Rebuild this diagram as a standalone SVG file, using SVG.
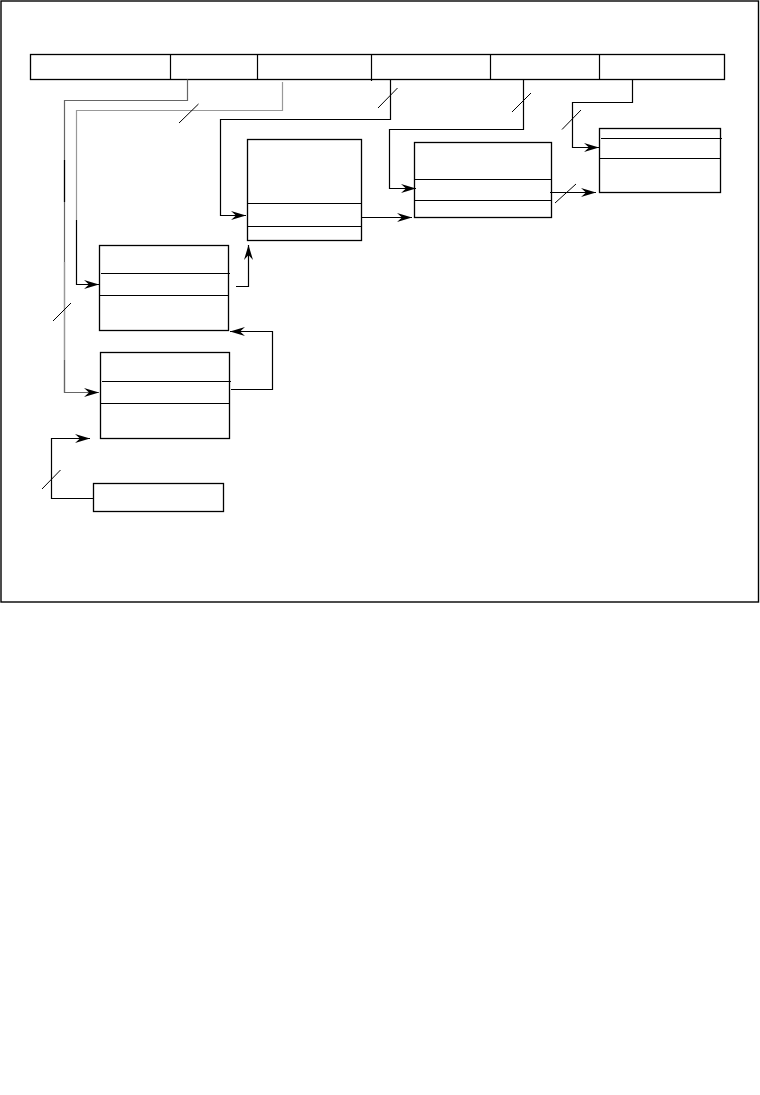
<svg xmlns="http://www.w3.org/2000/svg" width="760" height="1095" viewBox="0 0 760 1095">
<style>
.box{fill:#fff;stroke:#000;stroke-width:1.3}
.div{stroke:#000;stroke-width:1.2;fill:none}
.c{fill:none;stroke:#000;stroke-width:1.2}
.g1{fill:none;stroke:#666;stroke-width:1.2}
.g2{fill:none;stroke:#999;stroke-width:1.2}
.sl{stroke:#000;stroke-width:1}
</style>
<defs>
<marker id="ah" markerUnits="userSpaceOnUse" markerWidth="16" markerHeight="10" refX="15" refY="5" orient="auto" viewBox="0 0 16 10">
<path d="M0,0.5 L15,5 L0,9.5 L5,5 z" fill="#000"/>
</marker>
</defs>
<rect x="0" y="0" width="760" height="1095" fill="#fff"/>
<rect id="frame" x="1" y="1" width="757.5" height="601" fill="none" stroke="#000" stroke-width="1.4"/>

<g id="topbar">
<rect class="box" x="30.5" y="54.5" width="694" height="25"/>
<line class="div" x1="170.5" y1="54.5" x2="170.5" y2="79.5"/>
<line class="div" x1="257.5" y1="54.5" x2="257.5" y2="79.5"/>
<line class="div" x1="371.5" y1="54.5" x2="371.5" y2="81"/>
<line class="div" x1="490.5" y1="54.5" x2="490.5" y2="79.5"/>
<line class="div" x1="599.5" y1="54.5" x2="599.5" y2="79.5"/>
</g>

<g id="boxA">
<rect class="box" x="247.5" y="139.5" width="114" height="101"/>
<line class="div" x1="247.5" y1="203.5" x2="361.5" y2="203.5"/>
<line class="div" x1="247.5" y1="226.5" x2="361.5" y2="226.5"/>
</g>
<g id="boxB">
<rect class="box" x="414.5" y="142.5" width="137" height="75"/>
<line class="div" x1="414.5" y1="179.5" x2="551.5" y2="179.5"/>
<line class="div" x1="414.5" y1="200.5" x2="551.5" y2="200.5"/>
</g>
<g id="boxC">
<rect class="box" x="599.5" y="128.5" width="121" height="64"/>
<line class="div" x1="601" y1="138.5" x2="722" y2="138.5"/>
<line class="div" x1="599.5" y1="158.5" x2="720.5" y2="158.5"/>
</g>
<g id="boxD">
<rect class="box" x="99.5" y="245.5" width="129" height="85"/>
<line class="div" x1="101" y1="273.5" x2="230" y2="273.5"/>
<line class="div" x1="99.5" y1="295.5" x2="228.5" y2="295.5"/>
</g>
<g id="boxE">
<rect class="box" x="100.5" y="352.5" width="129" height="86"/>
<line class="div" x1="102" y1="381.5" x2="231" y2="381.5"/>
<line class="div" x1="100.5" y1="403.5" x2="229.5" y2="403.5"/>
</g>
<g id="boxF">
<rect class="box" x="93.5" y="483.5" width="130" height="28"/>
</g>

<g id="connectors">
<polyline class="g1" points="187.5,79.5 187.5,100.5 64.5,100.5 64.5,392.5" />
<line class="c" x1="64.5" y1="160" x2="64.5" y2="202"/>
<line class="g2" x1="64.5" y1="262" x2="64.5" y2="360"/>
<polyline class="g1" points="64.5,360 64.5,392.5 99,392.5" marker-end="url(#ah)"/>
<line class="sl" x1="53" y1="321" x2="71" y2="303"/>
<polyline class="g2" points="282.5,82 282.5,110.5 76.5,110.5 76.5,220"/>
<polyline class="c" points="76.5,220 76.5,284.5 99,284.5" marker-end="url(#ah)"/>
<line class="sl" x1="179" y1="123" x2="198.5" y2="104"/>
<polyline class="c" points="390.5,79.5 390.5,119.5 220.5,119.5 220.5,215.5 246,215.5" marker-end="url(#ah)"/>
<line class="sl" x1="378" y1="108" x2="397.5" y2="88"/>
<polyline class="c" points="523.5,79.5 523.5,129.5 389.5,129.5 389.5,188.5 416,188.5" marker-end="url(#ah)"/>
<line class="sl" x1="512" y1="112" x2="531" y2="93"/>
<polyline class="c" points="632.5,79.5 632.5,102.5 572.5,102.5 572.5,147.5 599,147.5" marker-end="url(#ah)"/>
<line class="sl" x1="562" y1="129.5" x2="581" y2="110"/>
<line class="c" x1="361.5" y1="217.5" x2="412" y2="217.5" marker-end="url(#ah)"/>
<line class="c" x1="550" y1="192.5" x2="596" y2="192.5" marker-end="url(#ah)"/>
<line class="sl" x1="555" y1="203" x2="576" y2="184"/>
<polyline class="c" points="236,286.5 248.5,286.5 248.5,245" marker-end="url(#ah)"/>
<polyline class="c" points="231,389.5 272.5,389.5 272.5,331.5 230,331.5" marker-end="url(#ah)"/>
<polyline class="c" points="93.5,498.5 51.5,498.5 51.5,438.5 90,438.5" marker-end="url(#ah)"/>
<line class="sl" x1="42" y1="489" x2="60.5" y2="470"/>
</g>
</svg>
